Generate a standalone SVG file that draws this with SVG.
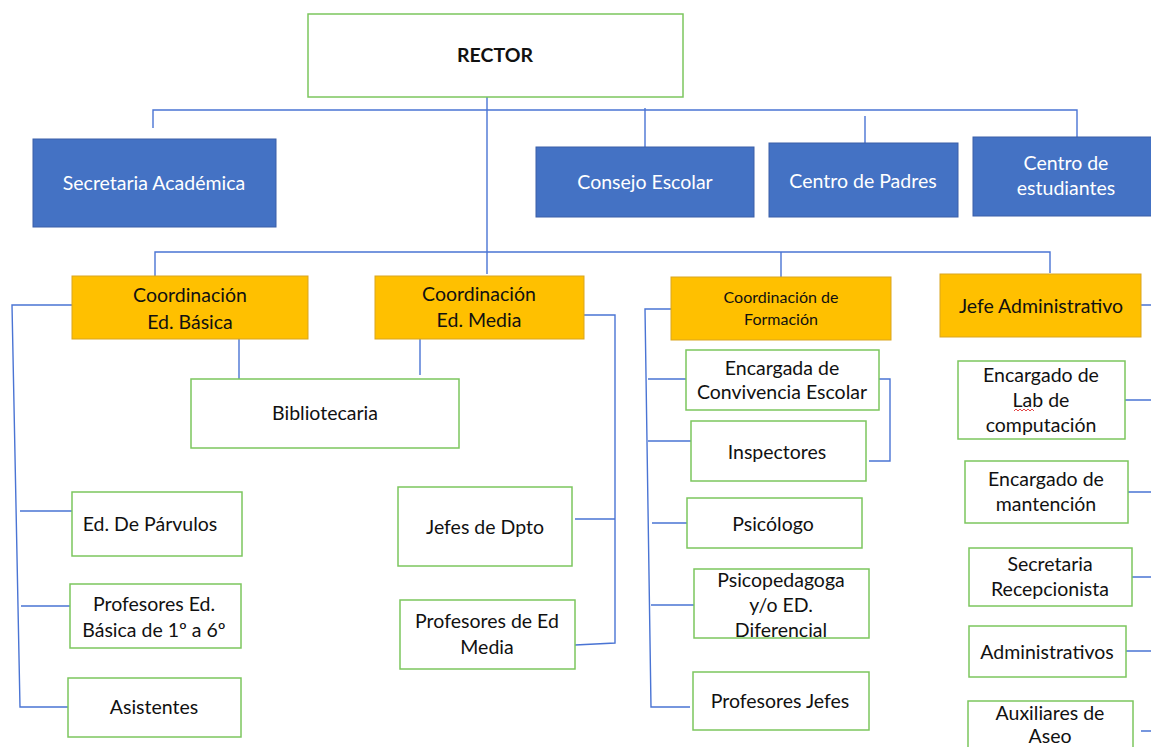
<svg xmlns="http://www.w3.org/2000/svg" width="1151" height="747" viewBox="0 0 1151 747">
<style>
.w{fill:#fff;stroke:#7CC65E;stroke-width:1.5}
.b{fill:#4472C4;stroke:#3A5FA8;stroke-width:1}
.o{fill:#FFC000;stroke:#D9A520;stroke-width:1}
text{font-family:Lato,"Open Sans","Liberation Sans",sans-serif;font-size:19.5px;fill:#111;text-anchor:middle}
.tb{fill:#fff}
.s{font-size:16px}
.c{fill:none;stroke:#4A74D4;stroke-width:1.4}
</style>
<rect width="1151" height="747" fill="#fff"/>
<g id="connectors">
<path class="c" d="M487 97V274M153 128V110H1077V137M645 108V147M865 116V143"/>
<path class="c" d="M155 276V252H1050V273M781 252V277"/>
<path class="c" d="M72 305H12L20 707H68M20 511H72M21 606H70"/>
<path class="c" d="M239 339V379M420 337V375"/>
<path class="c" d="M584 315H615V643L575 645M575 519H615"/>
<path class="c" d="M671 309H645L651 707H690M648 379H686M648 441H692M652 523H687M651 605H694"/>
<path class="c" d="M879 379H890V461H869"/>
<path class="c" d="M1141 305H1151M1125 400H1151M1128 492H1151M1132 577H1151M1126 651H1151M1141 731H1151"/>
</g>
<g id="rector"><rect class="w" x="308" y="14" width="375" height="83"/><text x="495" y="62" font-weight="bold" font-size="21">RECTOR</text></g>
<g id="secretaria"><rect class="b" x="33" y="139" width="243" height="88"/><text class="tb" x="154" y="190">Secretaria Académica</text></g>
<g id="consejo"><rect class="b" x="536" y="147" width="218" height="70"/><text class="tb" x="645" y="189">Consejo Escolar</text></g>
<g id="padres"><rect class="b" x="769" y="143" width="189" height="74"/><text class="tb" x="863" y="188">Centro de Padres</text></g>
<g id="estudiantes"><rect class="b" x="973" y="137" width="185" height="79"/><text class="tb" x="1066" y="170">Centro de</text><text class="tb" x="1066" y="195">estudiantes</text></g>
<g id="coord-basica"><rect class="o" x="72" y="276" width="236" height="63"/><text x="190" y="302">Coordinación</text><text x="190" y="329">Ed. Básica</text></g>
<g id="coord-media"><rect class="o" x="375" y="276" width="209" height="63"/><text x="479" y="301">Coordinación</text><text x="479" y="327">Ed. Media</text></g>
<g id="coord-formacion"><rect class="o" x="671" y="277" width="220" height="63"/><text class="s" x="781" y="303">Coordinación de</text><text class="s" x="781" y="325">Formación</text></g>
<g id="jefe-admin"><rect class="o" x="940" y="274" width="201" height="63"/><text x="1041" y="313">Jefe Administrativo</text></g>
<g id="bibliotecaria"><rect class="w" x="191" y="379" width="268" height="69"/><text x="325" y="420">Bibliotecaria</text></g>
<g id="parvulos"><rect class="w" x="72" y="492" width="170" height="64"/><text x="150" y="531">Ed. De Párvulos</text></g>
<g id="profesores-basica"><rect class="w" x="70" y="584" width="171" height="64"/><text x="154" y="611">Profesores Ed.</text><text x="154" y="637">Básica de 1º a 6º</text></g>
<g id="asistentes"><rect class="w" x="68" y="678" width="173" height="59"/><text x="154" y="714">Asistentes</text></g>
<g id="jefes-dpto"><rect class="w" x="398" y="487" width="174" height="79"/><text x="485" y="534">Jefes de Dpto</text></g>
<g id="profesores-media"><rect class="w" x="400" y="600" width="175" height="69"/><text x="487" y="628">Profesores de Ed</text><text x="487" y="654">Media</text></g>
<g id="convivencia"><rect class="w" x="686" y="350" width="193" height="60"/><text x="782" y="375">Encargada de</text><text x="782" y="399">Convivencia Escolar</text></g>
<g id="inspectores"><rect class="w" x="691" y="421" width="175" height="60"/><text x="777" y="459">Inspectores</text></g>
<g id="psicologo"><rect class="w" x="687" y="498" width="175" height="50"/><text x="773" y="531">Psicólogo</text></g>
<g id="psicopedagoga"><rect class="w" x="694" y="569" width="175" height="69"/><text x="781" y="587">Psicopedagoga</text><text x="781" y="612">y/o ED.</text><text x="781" y="637">Diferencial</text></g>
<g id="profesores-jefes"><rect class="w" x="693" y="672" width="176" height="58"/><text x="780" y="708">Profesores Jefes</text></g>
<g id="lab"><rect class="w" x="958" y="361" width="167" height="78"/><text x="1041" y="382">Encargado de</text><text x="1041" y="407">Lab de</text><text x="1041" y="432">computación</text><path d="M1014 411l2-2 2 2 2-2 2 2 2-2 2 2 2-2 2 2 2-2 2 2" fill="none" stroke="#e03030" stroke-width="0.9"/></g>
<g id="mantencion"><rect class="w" x="965" y="461" width="163" height="62"/><text x="1046" y="486">Encargado de</text><text x="1046" y="511">mantención</text></g>
<g id="recepcionista"><rect class="w" x="969" y="548" width="163" height="58"/><text x="1050" y="571">Secretaria</text><text x="1050" y="596">Recepcionista</text></g>
<g id="administrativos"><rect class="w" x="969" y="626" width="157" height="51"/><text x="1047" y="659">Administrativos</text></g>
<g id="auxiliares"><rect class="w" x="968" y="701" width="165" height="52"/><text x="1050" y="720">Auxiliares de</text><text x="1050" y="743">Aseo</text></g>
</svg>
